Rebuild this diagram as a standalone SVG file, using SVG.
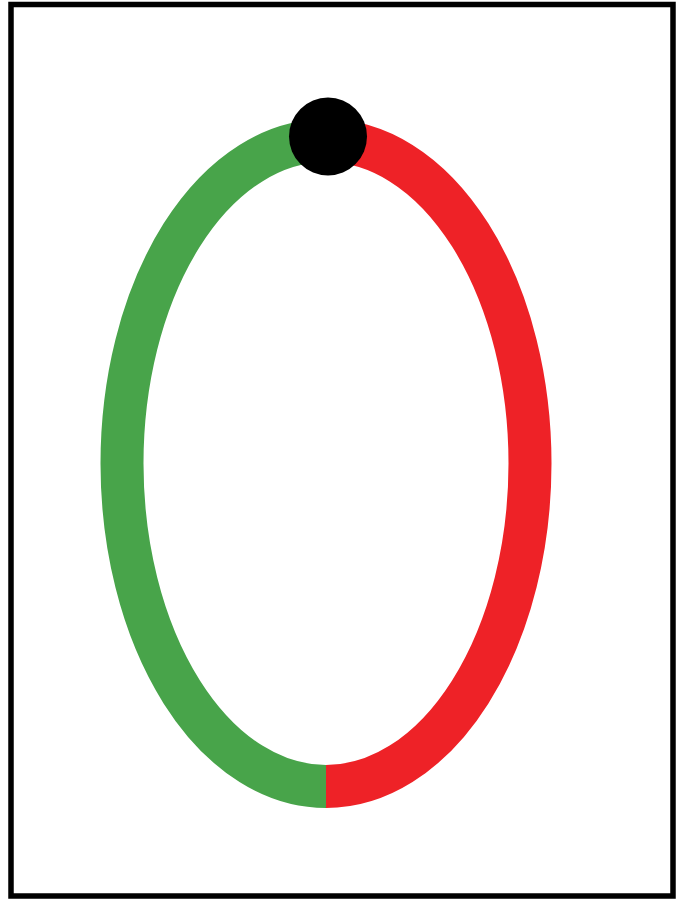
<svg xmlns="http://www.w3.org/2000/svg" width="681" height="899" viewBox="0 0 681 899">
<style>
.arc{fill:none;stroke-width:43;stroke-linecap:butt}
</style>
<rect x="0" y="0" width="681" height="899" fill="#ffffff"/>
<rect x="11" y="4.5" width="662" height="891.5" fill="#ffffff" stroke="#000000" stroke-width="5.5"/>
<g id="connectors">
<path id="green-arc" class="arc" stroke="#48A44A" d="M 326 786.5 A 204 323 0 0 1 326 140.5"/>
<path id="red-arc" class="arc" stroke="#EE2227" d="M 326 140.5 A 204 323 0 0 1 326 786.5"/>
</g>
<g id="node-dot">
<circle cx="328" cy="136.5" r="39" fill="#000000"/>
</g>
</svg>
